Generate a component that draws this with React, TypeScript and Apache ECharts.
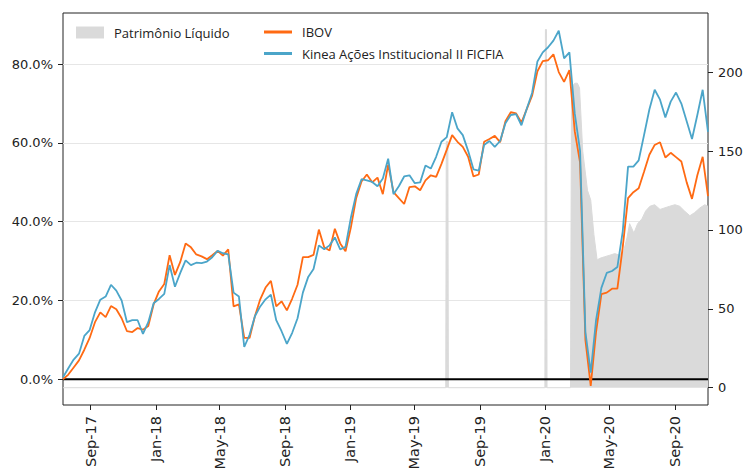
import React, { useEffect, useRef } from "react";
import * as echarts from "echarts";

// Sampling grid of the two return series (one point every STEP_DAYS days)
const START_DATE = "2017-07-11";
const STEP_DAYS = 10;

// Cumulative return (%) - IBOV
const ibov = [
  0, 1.2, 3, 4.8, 7.5, 10.5, 14.5, 17, 15.8, 18.6,
  17.8, 15.5, 12.2, 12, 13, 12.6, 13.5, 19, 22.3, 24.2,
  31.5, 26.5, 29.8, 34.5, 33.5, 31.7, 31.2, 30.5, 31.5, 32.6,
  31.4, 33, 18.5, 19, 10.5, 10.5, 16, 20.3, 23.3, 25,
  18.5, 19.8, 17.5, 20.5, 24, 31, 31, 31.6, 38, 33.5,
  32.7, 38.2, 34.5, 32.5, 38.5, 46, 50.2, 52, 50, 51.2,
  47, 54.5, 47.5, 46, 44.5, 48.8, 49, 48, 50.5, 51.8,
  51.4, 54.7, 58.3, 62, 60.3, 59, 56.5, 51.5, 52, 60.3,
  61, 61.8, 60.2, 65.5, 67.8, 67.5, 65.2, 68.6, 72, 78.2,
  80.8, 81, 82.5, 78, 75.5, 78.5, 63, 55, 10, -1.7,
  12, 21.6, 22, 23, 23, 33.5, 46, 47.5, 48.5, 52.7,
  57, 59.5, 60.2, 56.3, 57.5, 56.4, 55.3, 50, 45.8, 51.8,
  56.5, 46.5,
];

// Cumulative return (%) - Kinea Ações Institucional II FICFIA
const kinea = [
  0.5, 2.8, 5, 6.5, 11, 12.5, 17, 20.2, 21, 24,
  22.5, 20, 14.5, 15, 15, 11.5, 14.5, 19.3, 20.4, 21.7,
  29, 23.5, 27, 30.2, 29, 29.6, 29.5, 29.9, 31, 32.6,
  32, 31.7, 22, 21, 8.2, 11.3, 16, 18.5, 20.3, 21.5,
  15, 12.2, 9, 11.8, 15.5, 22, 26, 28, 34, 33,
  34, 36, 33, 33.6, 41, 47, 50.8, 50.5, 50.1, 49,
  51, 56, 47, 49, 51.5, 51.8, 49.8, 50, 54.3, 53.5,
  56.5, 60.3, 61.5, 67.8, 63.7, 62, 58, 53.3, 53, 59.5,
  60.5, 59, 60.5, 65, 67.1, 67.3, 64.5, 68.7, 72.7, 80.7,
  83, 84.3, 86, 88.5, 81.5, 83, 67.5, 58, 12, 1.7,
  15, 23.2, 27, 27.5, 28.5, 37.5, 54, 54, 55.6, 62,
  68.5, 73.5, 71, 66.5, 70.5, 72.8, 70, 65.5, 61, 67.1,
  73.5, 62.8,
];

// Patrimônio Líquido (right axis)
const plDates = [
  "2017-07-11", "2019-06-29", "2019-06-30", "2019-07-03", "2019-07-04",
  "2020-01-01", "2020-01-02", "2020-01-04", "2020-01-05", "2020-02-18",
  "2020-02-20", "2020-02-26", "2020-03-02", "2020-03-06", "2020-03-12",
  "2020-03-21", "2020-03-27", "2020-04-02", "2020-04-08", "2020-04-13",
  "2020-04-22", "2020-05-02", "2020-05-11", "2020-05-20", "2020-05-28",
  "2020-06-03", "2020-06-08", "2020-06-16", "2020-06-23", "2020-07-01",
  "2020-07-08", "2020-07-16", "2020-07-25", "2020-08-04", "2020-08-13",
  "2020-08-22", "2020-09-01", "2020-09-10", "2020-09-19", "2020-09-29",
  "2020-10-08", "2020-10-18", "2020-10-27", "2020-11-02",
];
const plValues = [
  0, 0, 156, 156, 0,
  0, 227, 227, 0, 0,
  190, 193, 193, 190, 150,
  125, 119, 97, 81, 82,
  83, 84, 85, 84, 87,
  95, 104, 98, 104, 107,
  112, 115, 116, 113, 114,
  115, 116, 115, 112, 109,
  111, 114, 116, 115,
];

const xTickDates = [
  "2017-09-01", "2018-01-01", "2018-05-01", "2018-09-01", "2019-01-01",
  "2019-05-01", "2019-09-01", "2020-01-01", "2020-05-01", "2020-09-01",
];
const xTickLabels = [
  "Sep-17", "Jan-18", "May-18", "Sep-18", "Jan-19",
  "May-19", "Sep-19", "Jan-20", "May-20", "Sep-20",
];
const leftTicks = [0, 20, 40, 60, 80];
const rightTicks = [0, 50, 100, 150, 200];

const NAME_PL = "Patrimônio Líquido";
const NAME_IBOV = "IBOV";
const NAME_KINEA = "Kinea Ações Institucional II FICFIA";

const DAY = 86400000;
const ts = (s: string) => Date.parse(s + "T00:00:00Z");

export default function App() {
  const ref = useRef<HTMLDivElement>(null);

  useEffect(() => {
    if (!ref.current) return;
    const chart = echarts.init(ref.current, null, { renderer: "svg" });
    const t0 = ts(START_DATE);
    const dateAt = (i: number) => t0 + i * STEP_DAYS * DAY;
    const xMin = t0;
    const xMax = dateAt(ibov.length - 1);
    const tickTs = xTickDates.map(ts);

    const legendText = {
      fontFamily: "Open Sans",
      fontSize: 13,
      color: "#222",
      lineHeight: 14,
      padding: [0, 0, 0, 5],
    };

    chart.setOption({
      animation: false,
      textStyle: { fontFamily: "DejaVu Sans" },
      grid: {
        left: 63,
        right: 39,
        top: 13,
        bottom: 65,
        outerBoundsMode: "none",
        containLabel: false,
        show: true,
        borderColor: "#222",
        borderWidth: 1,
        backgroundColor: "transparent",
      },
      legend: [
        {
          data: [{ name: NAME_PL, icon: "rect" }],
          left: 76,
          top: 25.5,
          padding: 0,
          itemWidth: 28,
          itemHeight: 12,
          selectedMode: false,
          textStyle: legendText,
        },
        {
          data: [
            { name: NAME_IBOV, icon: "rect" },
            { name: NAME_KINEA, icon: "rect" },
          ],
          orient: "vertical",
          left: 264,
          top: 25,
          padding: 0,
          itemWidth: 28,
          itemHeight: 3,
          itemGap: 7.5,
          selectedMode: false,
          textStyle: legendText,
        },
      ],
      xAxis: {
        type: "value",
        min: xMin,
        max: xMax,
        axisLine: { show: false, onZero: false },
        splitLine: { show: false },
        axisTick: {
          show: true,
          length: 5,
          customValues: tickTs,
          lineStyle: { color: "#222" },
        },
        axisLabel: {
          fontFamily: "DejaVu Sans",
          fontSize: 14.5,
          color: "#222",
          rotate: 90,
          margin: 11,
          customValues: tickTs,
          formatter: (v: number) => {
            const k = tickTs.indexOf(v);
            return k >= 0 ? xTickLabels[k] : "";
          },
        },
      },
      yAxis: [
        {
          type: "value",
          position: "left",
          min: -6.53,
          max: 93.0,
          axisLine: { show: false, onZero: false },
          axisTick: {
            show: true,
            length: 5,
            customValues: leftTicks,
            lineStyle: { color: "#222" },
          },
          axisLabel: {
            fontFamily: "DejaVu Sans",
            fontSize: 13,
            color: "#222",
            margin: 10,
            customValues: leftTicks,
            formatter: (v: number) => v.toFixed(1) + "%",
          },
          splitLine: { show: true, lineStyle: { color: "#e6e6e6", width: 1 } },
        },
        {
          type: "value",
          position: "right",
          min: -10.96,
          max: 237.5,
          axisLine: { show: false, onZero: false },
          axisTick: {
            show: true,
            length: 5,
            customValues: rightTicks,
            lineStyle: { color: "#222" },
          },
          axisLabel: {
            fontFamily: "DejaVu Sans",
            fontSize: 13,
            color: "#222",
            margin: 10,
            customValues: rightTicks,
          },
          splitLine: { show: false },
        },
      ],
      series: [
        {
          name: NAME_PL,
          type: "line",
          yAxisIndex: 1,
          data: plDates.map((d, i) => [ts(d), plValues[i]]),
          showSymbol: false,
          symbol: "none",
          silent: true,
          itemStyle: { color: "#dadada" },
          lineStyle: { color: "#dadada", width: 1 },
          areaStyle: { color: "#dadada", opacity: 1 },
        },
        {
          name: "zero",
          type: "line",
          yAxisIndex: 0,
          data: [
            [xMin, 0],
            [xMax, 0],
          ],
          showSymbol: false,
          symbol: "none",
          silent: true,
          lineStyle: { color: "#000", width: 2 },
        },
        {
          name: NAME_IBOV,
          type: "line",
          yAxisIndex: 0,
          data: ibov.map((v, i) => [dateAt(i), v]),
          showSymbol: false,
          symbol: "none",
          itemStyle: { color: "#ff6a13" },
          lineStyle: { color: "#ff6a13", width: 1.8 },
        },
        {
          name: NAME_KINEA,
          type: "line",
          yAxisIndex: 0,
          data: kinea.map((v, i) => [dateAt(i), v]),
          showSymbol: false,
          symbol: "none",
          itemStyle: { color: "#4ba5c9" },
          lineStyle: { color: "#4ba5c9", width: 1.8 },
        },
      ],
    });

    return () => chart.dispose();
  }, []);

  return (
    <div
      ref={ref}
      style={{ position: "absolute", left: 0, top: 0, width: 747, height: 470 }}
    />
  );
}
